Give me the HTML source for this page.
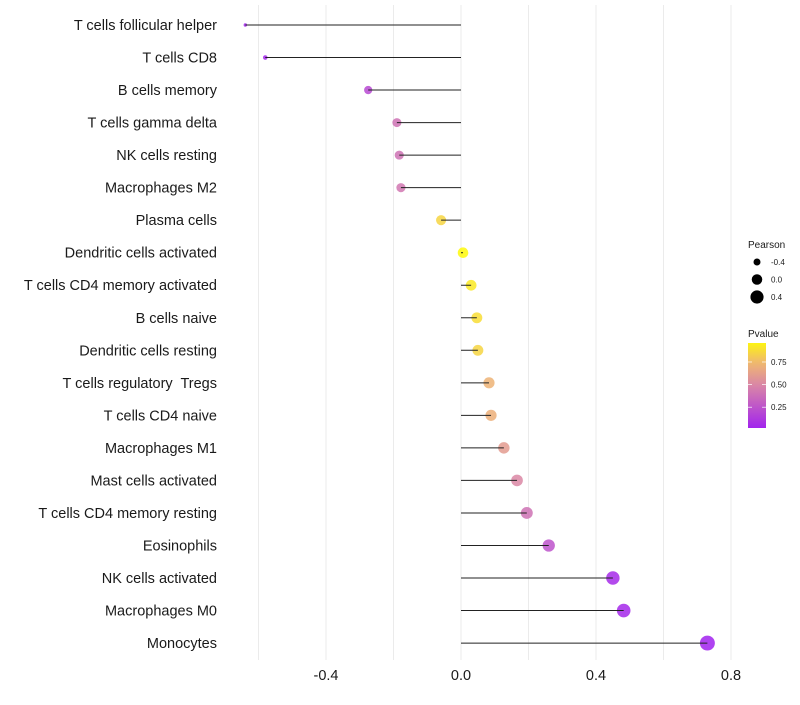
<!DOCTYPE html>
<html><head><meta charset="utf-8"><style>
body{margin:0;background:#fff;}
svg{font-family:"Liberation Sans",sans-serif;}
text{white-space:pre;}
</style></head><body>
<svg id="chart" width="800" height="700" xmlns="http://www.w3.org/2000/svg">
<g id="grid"></g>
<g id="dots"></g>
<g id="segs"></g>
<g id="ylab"></g>
<g id="xlab"></g>
<g id="legend"></g>
</svg>
<script>
const categories=["T cells follicular helper","T cells CD8","B cells memory","T cells gamma delta","NK cells resting","Macrophages M2","Plasma cells","Dendritic cells activated","T cells CD4 memory activated","B cells naive","Dendritic cells resting","T cells regulatory  Tregs","T cells CD4 naive","Macrophages M1","Mast cells activated","T cells CD4 memory resting","Eosinophils","NK cells activated","Macrophages M0","Monocytes"];
const pearson=[-0.639,-0.58,-0.275,-0.19,-0.183,-0.178,-0.059,0.006,0.03,0.047,0.05,0.083,0.089,0.127,0.166,0.195,0.26,0.45,0.482,0.73];
const pvalue=[0.02,0.03,0.2,0.4,0.4,0.42,0.85,0.98,0.92,0.88,0.85,0.72,0.7,0.6,0.5,0.4,0.25,0.05,0.04,0.01];
const xTicks=[-0.4,0.0,0.4,0.8];
const gridVals=[-0.6,-0.4,-0.2,0,0.2,0.4,0.6,0.8];
const sizeLegend=[-0.4,0.0,0.4];
const colorLegend=[0.75,0.50,0.25];

const NS="http://www.w3.org/2000/svg";
const X=v=>461+v*337.5;
const Y=i=>25+i*32.53;
const R=v=>Math.sqrt(Math.max(1,2.9+38.8*(v+0.64)));
function col(p){
  const stops=[[0,[160,32,240]],[0.5,[218,135,165]],[0.75,[240,185,110]],[1,[255,255,0]]];
  for(let k=1;k<stops.length;k++){if(p<=stops[k][0]){const a=stops[k-1],b=stops[k];const t=(p-a[0])/(b[0]-a[0]);return `rgb(${a[1].map((c,j)=>Math.round(c+(b[1][j]-c)*t)).join(',')})`;}}
  return 'rgb(255,255,0)';
}
function mk(tag,attrs,parent){const e=document.createElementNS(NS,tag);for(const k in attrs)e.setAttribute(k,attrs[k]);parent.appendChild(e);return e;}
const g=document.getElementById('grid'),d=document.getElementById('dots'),s=document.getElementById('segs'),yl=document.getElementById('ylab'),xl=document.getElementById('xlab'),lg=document.getElementById('legend');
gridVals.forEach(v=>{const l=mk('line',{x1:X(v),x2:X(v),y1:5,y2:660,stroke:'#ebebeb','stroke-width':1},g);

});
categories.forEach((c,i)=>{
  const ci=mk('circle',{cx:X(pearson[i]),cy:Y(i),r:R(pearson[i]),fill:col(pvalue[i]),'fill-opacity':0.85},d);
  
  
  const ln=mk('line',{x1:X(0),x2:X(pearson[i]),y1:Y(i),y2:Y(i),stroke:'#222','stroke-width':1},s);
  
  
  const t=mk('text',{x:217,y:Y(i)+5,'text-anchor':'end','font-size':14.5,fill:'#1a1a1a'},yl);
  t.textContent=c;
  
  
});
xTicks.forEach(v=>{const t=mk('text',{x:X(v),y:680,'text-anchor':'middle','font-size':14.5,fill:'#1a1a1a'},xl);
t.textContent=v.toFixed(1);

});
let tt=mk('text',{x:748,y:248,'font-size':10,fill:'#1a1a1a'},lg);tt.textContent='Pearson';


sizeLegend.forEach((v,i)=>{const y=262+i*17.5;
  const c=mk('circle',{cx:757,cy:y,r:R(v),fill:'#000'},lg);
  
  
  const t=mk('text',{x:771,y:y+3,'font-size':8,fill:'#1a1a1a'},lg);t.textContent=v.toFixed(1);
  
  });
tt=mk('text',{x:748,y:337,'font-size':10,fill:'#1a1a1a'},lg);tt.textContent='Pvalue';


const defs=mk('defs',{},lg);const gr=mk('linearGradient',{id:'pg',x1:0,y1:1,x2:0,y2:0},defs);
for(let k=0;k<=10;k++){mk('stop',{offset:k/10,'stop-color':col(0.02+k*0.094)},gr);}
const bar=mk('rect',{x:748,y:343,width:18,height:85,fill:'url(#pg)'},lg);


colorLegend.forEach(v=>{const y=428-(v-0.02)/0.94*85;
  mk('line',{x1:748,x2:752,y1:y,y2:y,stroke:'#fff','stroke-width':0.7},lg);mk('line',{x1:762,x2:766,y1:y,y2:y,stroke:'#fff','stroke-width':0.7},lg);
  const t=mk('text',{x:771,y:y+3,'font-size':8,fill:'#1a1a1a'},lg);t.textContent=v.toFixed(2);
  
  });
</script>
</body></html>
